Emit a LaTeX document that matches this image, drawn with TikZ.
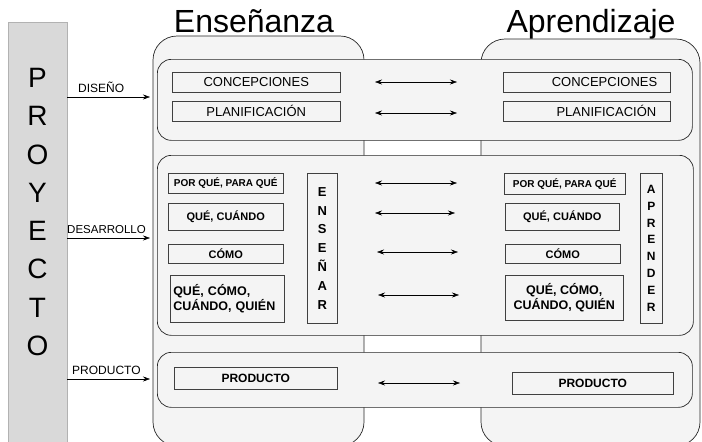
\documentclass[tikz,border=0pt]{standalone}
\usepackage{fontspec}
\setmainfont{Liberation Sans}
\usetikzlibrary{arrows.meta}
\begin{document}
\begin{tikzpicture}[x=1pt,y=-1pt,
  colfill/.style={fill=gray!9, draw=black!85, line width=0.7pt, rounded corners=24pt},
  band/.style={fill=gray!9, draw=black!85, line width=0.7pt, rounded corners=14pt, inner sep=0pt, anchor=north west},
  box/.style={draw=black!75, line width=0.5pt, inner sep=0pt, anchor=north west, align=center},
  darr/.style={{Stealth[length=7pt,width=5pt]}-{Stealth[length=7pt,width=5pt]}, line width=0.5pt},
  sarr/.style={-{Stealth[length=7pt,width=5pt]}, line width=0.5pt},
  fA/.style={font=\fontsize{13}{15}\selectfont},
  fB/.style={font=\bfseries\fontsize{11}{13}\selectfont},
  lab/.style={font=\fontsize{12}{14}\selectfont, anchor=base west, inner sep=0pt},
]
\useasboundingbox (0,0) rectangle (702,442);
\clip (0,0) rectangle (702,442);

% PROYECTO bar
\node[fill=gray!30, draw=gray!60, minimum width=59pt, minimum height=440pt, anchor=north west, inner sep=0pt] (bar) at (8,22) {};
\node[font=\fontsize{28}{38.3}\selectfont, align=center] (proy) at (37.5,212) {P\\R\\O\\Y\\E\\C\\T\\O};

% columns
\draw[colfill] (153,446) -- (153,36) -- (364,36) -- (364,446) -- cycle;
\draw[colfill] (481,446) -- (481,39) -- (700,39) -- (700,446) -- cycle;

% titles
\node[font=\fontsize{32}{36}\selectfont, anchor=base, inner sep=0pt] (tE) at (254,32) {Enseñanza};
\node[font=\fontsize{32}{36}\selectfont, anchor=base, inner sep=0pt] (tA) at (591,32) {Aprendizaje};

% bands
\node[band, minimum width=535pt, minimum height=81pt] (b1) at (157,59) {};
\node[band, minimum width=536pt, minimum height=180pt] (b2) at (157,155) {};
\node[band, minimum width=535pt, minimum height=55pt] (b3) at (157,352) {};

% band 1
\node[box, fA, minimum width=168pt, minimum height=20pt] (c1L) at (172,72) {CONCEPCIONES};
\node[box, fA, minimum width=168pt, minimum height=20pt] (p1L) at (172,101) {PLANIFICACIÓN};
\node[box, fA, minimum width=167pt, minimum height=20pt, text width=141pt, inner xsep=13pt, align=right] (c1R) at (503,72) {CONCEPCIONES};
\node[box, fA, minimum width=167pt, minimum height=20pt, text width=139pt, inner xsep=14pt, align=right] (p1R) at (503,101) {PLANIFICACIÓN};

\coordinate (a1s) at (375,82); \coordinate (a1e) at (457,82);
\coordinate (a2s) at (375,113); \coordinate (a2e) at (457,113);
\draw[darr] (a1s) -- (a1e);
\draw[darr] (a2s) -- (a2e);

% band 2 left
\node[box, font=\bfseries\fontsize{10}{12}\selectfont, minimum width=115pt, minimum height=20pt] (q1L) at (168,173) {POR QUÉ, PARA QUÉ};
\node[box, fB, minimum width=115pt, minimum height=27pt] (q2L) at (168,203) {QUÉ, CUÁNDO};
\node[box, fB, minimum width=115pt, minimum height=19pt] (q3L) at (168,244) {CÓMO};
\node[box, font=\bfseries\fontsize{12.5}{15}\selectfont, minimum width=114pt, minimum height=47pt, text width=108pt, inner xsep=3pt, align=left] (q4L) at (170,275) {QUÉ, CÓMO,\\CUÁNDO, QUIÉN};
\node[box, font=\bfseries\fontsize{13}{18.8}\selectfont, minimum width=30pt, minimum height=150pt] (ens) at (307,173) {E\\N\\S\\E\\Ñ\\A\\R};

% band 2 right
\node[box, font=\bfseries\fontsize{10}{12}\selectfont, minimum width=121pt, minimum height=21pt] (q1R) at (504,173) {POR QUÉ, PARA QUÉ};
\node[box, fB, minimum width=114pt, minimum height=27pt] (q2R) at (505,203) {QUÉ, CUÁNDO};
\node[box, fB, minimum width=115pt, minimum height=19pt] (q3R) at (505,244) {CÓMO};
\node[box, font=\bfseries\fontsize{12.5}{15}\selectfont, minimum width=118pt, minimum height=45pt] (q4R) at (505,275) {QUÉ, CÓMO,\\CUÁNDO, QUIÉN};
\node[box, font=\bfseries\fontsize{12}{16.9}\selectfont, minimum width=22pt, minimum height=150pt] (apr) at (640,173) {A\\P\\R\\E\\N\\D\\E\\R};

\coordinate (a3s) at (375,183); \coordinate (a3e) at (457,183);
\coordinate (a4s) at (375,213); \coordinate (a4e) at (455,213);
\coordinate (a5s) at (377,252); \coordinate (a5e) at (458,252);
\coordinate (a6s) at (378,295); \coordinate (a6e) at (459,295);
\draw[darr] (a3s) -- (a3e);
\draw[darr] (a4s) -- (a4e);
\draw[darr] (a5s) -- (a5e);
\draw[darr] (a6s) -- (a6e);

% band 3
\node[box, font=\bfseries\fontsize{12}{14}\selectfont, minimum width=163pt, minimum height=22pt] (r3L) at (174,367) {PRODUCTO};
\node[box, font=\bfseries\fontsize{12}{14}\selectfont, minimum width=161pt, minimum height=22pt] (r3R) at (512,372) {PRODUCTO};
\coordinate (a7s) at (378,383); \coordinate (a7e) at (460,383);
\draw[darr] (a7s) -- (a7e);

% PROYECTO arrows
\coordinate (d1) at (150,97);
\coordinate (d2) at (150,238);
\coordinate (d3) at (150,379);
\draw[sarr] (bar.east |- d1) -- (d1);
\draw[sarr] (bar.east |- d2) -- (d2);
\draw[sarr] (bar.east |- d3) -- (d3);
\node[lab] (l1) at (78,92) {DISEÑO};
\node[lab, font=\fontsize{11.5}{14}\selectfont] (l2) at (67,233) {DESARROLLO};
\node[lab] (l3) at (72,374) {PRODUCTO};
\end{tikzpicture}
\end{document}
